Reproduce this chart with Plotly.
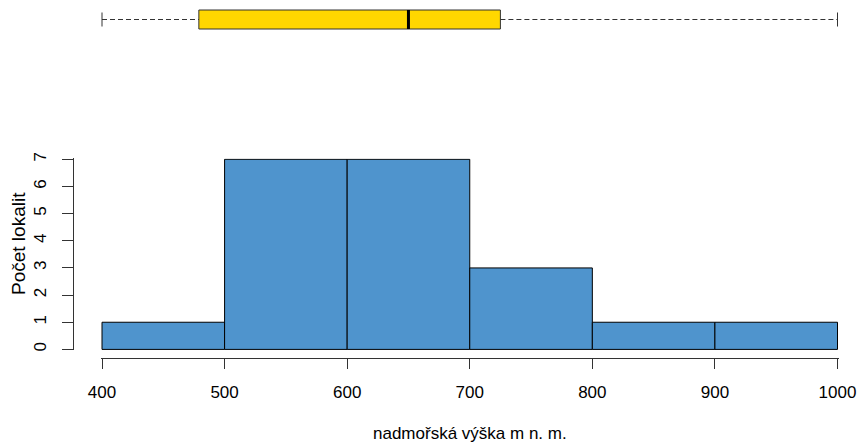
import numpy as np
import plotly.graph_objects as go

# ---- data ----
bin_edges = [400, 500, 600, 700, 800, 900, 1000]
counts = [1, 7, 7, 3, 1, 1]
x_ticks = [400, 500, 600, 700, 800, 900, 1000]
y_ticks = [0, 1, 2, 3, 4, 5, 6, 7]
box_min = 400
box_q1 = 479
box_median = 650
box_q3 = 725
box_max = 1000

x_title = "nadmořská výška m n. m."
y_title = "Počet lokalit"

# ---- layout helpers (pixel geometry) ----
W, H = 860, 443
FONT = "Liberation Sans, Arial, sans-serif"
FS = 17

edges = np.array(bin_edges, dtype=float)
centers = (edges[:-1] + edges[1:]) / 2
widths = np.diff(edges)

px_per_unit = (837.5 - 102) / 600.0
xr = [399, 1001]
x_left_px = 102 + (xr[0] - 400) * px_per_unit
x_right_px = 102 + (xr[1] - 400) * px_per_unit

ypx_per_unit = (349.4 - 159.3) / 7.0
yr = [-0.03, 7.03]
y_bot_px = 349.4 - yr[0] * ypx_per_unit
y_top_px = 159.3 - (yr[1] - 7) * ypx_per_unit

fig = go.Figure()

fig.add_trace(go.Bar(
    x=centers, y=counts, width=widths,
    marker=dict(color="#4F94CD", line=dict(color="black", width=1)),
    xaxis="x", yaxis="y", hoverinfo="x+y",
))

# boxplot (top)
box_w = 19 / 19.5
fig.add_trace(go.Box(
    y=[0], q1=[box_q1], median=[box_median], q3=[box_q3],
    lowerfence=[box_q1], upperfence=[box_q3],
    orientation="h", width=box_w, boxpoints=False,
    fillcolor="#FFD700", line=dict(color="#333333", width=1),
    xaxis="x", yaxis="y2", whiskerwidth=0,
))
# dashed whiskers
fig.add_trace(go.Scatter(
    x=[box_min, box_q1, None, box_q3, box_max], y=[0, 0, None, 0, 0],
    mode="lines", line=dict(color="#333333", width=1, dash="5px,3px"),
    xaxis="x", yaxis="y2", hoverinfo="skip",
))
# whisker caps
fig.add_trace(go.Scatter(
    x=[box_min, box_max], y=[0, 0], mode="markers",
    marker=dict(symbol="line-ns", size=10, line=dict(color="#333333", width=1)),
    xaxis="x", yaxis="y2", hoverinfo="skip",
))
# thick median
fig.add_trace(go.Scatter(
    x=[box_median, box_median], y=[-box_w / 2, box_w / 2], mode="lines",
    line=dict(color="black", width=3),
    xaxis="x", yaxis="y2", hoverinfo="skip",
))

axis_font = dict(family=FONT, size=FS, color="black")

fig.update_layout(
    width=W, height=H,
    margin=dict(l=0, r=0, t=0, b=0, autoexpand=False),
    paper_bgcolor="white", plot_bgcolor="white",
    showlegend=False,
    font=dict(family=FONT, size=FS, color="black"),
    xaxis=dict(
        domain=[x_left_px / W, x_right_px / W], range=xr,
        anchor="free", position=(H - 357.7) / H, automargin=False,
        showline=True, linecolor="#333333", linewidth=1,
        ticks="outside", ticklen=10, tickwidth=1, tickcolor="#333333",
        tickvals=x_ticks, ticktext=[str(v) for v in x_ticks],
        tickfont=axis_font, showgrid=False, zeroline=False,
        ticklabelstandoff=9,
    ),
    yaxis=dict(
        domain=[(H - y_bot_px) / H, (H - y_top_px) / H], range=yr,
        anchor="free", position=72.7 / W, automargin=False,
        showline=True, linecolor="#333333", linewidth=1,
        ticks="outside", ticklen=11, tickwidth=1, tickcolor="#333333",
        tickvals=y_ticks, ticktext=[str(v) for v in y_ticks],
        tickangle=-90, tickfont=axis_font, showgrid=False, zeroline=False,
        ticklabelstandoff=9,
    ),
    yaxis2=dict(
        domain=[(H - 39) / H, 1.0], range=[-1, 1], automargin=False,
        anchor="x", visible=False, showgrid=False, zeroline=False,
    ),
    annotations=[
        dict(text=x_title, x=(102 + 837.5) / 2 / W, y=(H - 433) / H,
             xref="paper", yref="paper", showarrow=False,
             xanchor="center", yanchor="middle", font=axis_font),
        dict(text=y_title, x=18 / W, y=(H - 244) / H,
             xref="paper", yref="paper", showarrow=False, textangle=-90,
             xanchor="center", yanchor="middle",
             font=dict(family=FONT, size=19, color="black")),
    ],
)

fig.write_html("out.html")
